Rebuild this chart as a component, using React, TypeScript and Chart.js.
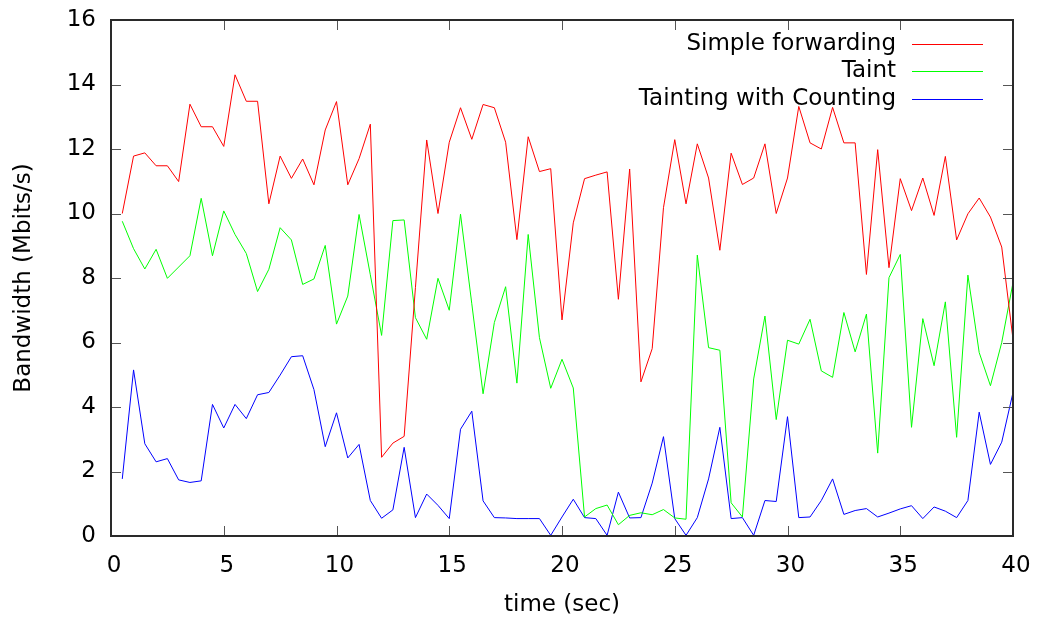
import React, { useEffect, useRef } from "react";
import Chart from "chart.js/auto";

const times = [
  0.5, 1, 1.5, 2, 2.5, 3, 3.5, 4, 4.5, 5, 5.5, 6, 6.5, 7, 7.5, 8, 8.5, 9, 9.5, 10,
  10.5, 11, 11.5, 12, 12.5, 13, 13.5, 14, 14.5, 15, 15.5, 16, 16.5, 17, 17.5, 18, 18.5, 19, 19.5, 20,
  20.5, 21, 21.5, 22, 22.5, 23, 23.5, 24, 24.5, 25, 25.5, 26, 26.5, 27, 27.5, 28, 28.5, 29, 29.5, 30,
  30.5, 31, 31.5, 32, 32.5, 33, 33.5, 34, 34.5, 35, 35.5, 36, 36.5, 37, 37.5, 38, 38.5, 39, 39.5, 40,
];

const simpleForwarding = [
  10.0, 11.78, 11.88, 11.48, 11.48, 10.99, 13.39, 12.69, 12.69, 12.08,
  14.3, 13.48, 13.48, 10.3, 11.78, 11.09, 11.69, 10.89, 12.59, 13.47,
  10.89, 11.7, 12.77, 2.44, 2.88, 3.09, 7.7, 12.28, 10.0, 12.21,
  13.28, 12.3, 13.38, 13.28, 12.21, 9.19, 12.38, 11.3, 11.39, 6.7,
  9.71, 11.08, 11.19, 11.29, 7.34, 11.38, 4.78, 5.81, 10.18, 12.29,
  10.3, 12.16, 11.1, 8.86, 11.87, 10.9, 11.1, 12.16, 10.0, 11.1,
  13.32, 12.19, 12.0, 13.29, 12.19, 12.19, 8.11, 11.98, 8.32, 11.08,
  10.09, 11.1, 9.94, 11.77, 9.18, 9.99, 10.48, 9.89, 8.96, 6.1,
];

const taint = [
  9.76, 8.91, 8.28, 8.89, 7.99, 8.34, 8.69, 10.47, 8.69, 10.08,
  9.35, 8.76, 7.58, 8.27, 9.56, 9.18, 7.8, 7.97, 9.01, 6.57,
  7.44, 9.97, 8.1, 6.22, 9.78, 9.8, 6.77, 6.1, 7.99, 7.0,
  9.98, 7.2, 4.41, 6.62, 7.73, 4.74, 9.35, 6.15, 4.58, 5.48,
  4.59, 0.59, 0.85, 0.96, 0.35, 0.64, 0.72, 0.66, 0.82, 0.56,
  0.52, 8.71, 5.84, 5.76, 1.03, 0.59, 4.87, 6.82, 3.61, 6.07,
  5.95, 6.72, 5.12, 4.92, 6.93, 5.71, 6.88, 2.57, 8.01, 8.73,
  3.37, 6.74, 5.28, 7.26, 3.06, 8.09, 5.69, 4.66, 6.0, 7.86,
];

const taintingWithCounting = [
  1.77, 5.15, 2.86, 2.3, 2.4, 1.74, 1.66, 1.71, 4.08, 3.35,
  4.08, 3.64, 4.38, 4.45, 4.99, 5.56, 5.59, 4.54, 2.77, 3.82,
  2.42, 2.84, 1.1, 0.55, 0.81, 2.75, 0.57, 1.3, 0.95, 0.54,
  3.31, 3.87, 1.09, 0.57, 0.56, 0.54, 0.54, 0.54, 0.02, 0.59,
  1.14, 0.57, 0.54, 0.02, 1.36, 0.56, 0.57, 1.64, 3.08, 0.54,
  0.02, 0.57, 1.77, 3.37, 0.54, 0.57, 0.02, 1.1, 1.07, 3.7,
  0.57, 0.59, 1.1, 1.77, 0.67, 0.79, 0.85, 0.59, 0.71, 0.84,
  0.94, 0.54, 0.9, 0.77, 0.57, 1.1, 3.84, 2.22, 2.91, 4.45,
];

const seriesLabels = ["Simple forwarding", "Taint", "Tainting with Counting"];
const seriesColors = ["#ff0000", "#00ff00", "#0000ff"];
const seriesData = [simpleForwarding, taint, taintingWithCounting];

const xTitle = "time (sec)";
const yTitle = "Bandwidth (Mbits/s)";

const FONT = "'DejaVu Sans', sans-serif";
const FONT_SIZE = 23;

const zeroPad = (s: any) => {
  s.paddingTop = 0;
  s.paddingBottom = 0;
  s.paddingLeft = 0;
  s.paddingRight = 0;
};

const framePlugin = {
  id: "gnuframe",
  afterDatasetsDraw(chart: any) {
    const { ctx, chartArea: a, scales } = chart;
    const xs = scales.x;
    const ys = scales.y;
    ctx.save();
    ctx.strokeStyle = "#555555";
    ctx.lineWidth = 1;
    const tl = 10;
    ctx.beginPath();
    xs.ticks.forEach((t: any) => {
      const px = Math.round(xs.getPixelForValue(t.value)) + 0.5;
      ctx.moveTo(px, a.bottom);
      ctx.lineTo(px, a.bottom - tl);
      ctx.moveTo(px, a.top);
      ctx.lineTo(px, a.top + tl);
    });
    ys.ticks.forEach((t: any) => {
      const py = Math.round(ys.getPixelForValue(t.value)) + 0.5;
      ctx.moveTo(a.left, py);
      ctx.lineTo(a.left + tl, py);
      ctx.moveTo(a.right, py);
      ctx.lineTo(a.right - tl, py);
    });
    ctx.stroke();
    ctx.strokeStyle = "#2a2a2a";
    ctx.lineWidth = 2;
    ctx.strokeRect(a.left, a.top, a.right - a.left, a.bottom - a.top);
    ctx.font = `${FONT_SIZE}px ${FONT}`;
    ctx.textAlign = "right";
    ctx.textBaseline = "middle";
    chart.data.datasets.forEach((ds: any, i: number) => {
      const y = 44 + i * 27.3;
      ctx.fillStyle = "#000000";
      ctx.fillText(ds.label, 896, y);
      ctx.strokeStyle = ds.borderColor;
      ctx.lineWidth = 1;
      ctx.beginPath();
      ctx.moveTo(912, Math.round(y) + 0.5);
      ctx.lineTo(983, Math.round(y) + 0.5);
      ctx.stroke();
    });
    ctx.restore();
  },
};

export default function App() {
  const ref = useRef<HTMLCanvasElement>(null);
  useEffect(() => {
    document.body.style.margin = "0";
    const canvas = ref.current;
    if (!canvas) return;
    const chart = new Chart(canvas, {
      type: "line",
      data: {
        datasets: seriesData.map((vals, i) => ({
          label: seriesLabels[i],
          data: vals.map((v, j) => ({ x: times[j], y: v })),
          borderColor: seriesColors[i],
          backgroundColor: seriesColors[i],
          borderWidth: 1,
          pointRadius: 0,
          tension: 0,
          fill: false,
        })),
      },
      options: {
        animation: false,
        responsive: false,
        events: [],
        layout: { padding: { top: 20, right: 26, left: 0, bottom: 0 } },
        plugins: {
          legend: { display: false },
          tooltip: { enabled: false },
        },
        scales: {
          x: {
            type: "linear",
            min: 0,
            max: 40,
            afterFit: (s: any) => {
              s.height = 85;
              zeroPad(s);
            },
            grid: { display: false, drawTicks: false },
            border: { display: false },
            ticks: {
              stepSize: 5,
              padding: 16,
              labelOffset: 3,
              color: "#000000",
              font: { family: FONT, size: FONT_SIZE },
              maxRotation: 0,
            },
            title: {
              display: true,
              text: xTitle,
              color: "#000000",
              font: { family: FONT, size: FONT_SIZE },
              padding: { top: 0, bottom: 2 },
            },
          },
          y: {
            min: 0,
            max: 16,
            afterFit: (s: any) => {
              s.width = 111;
              zeroPad(s);
            },
            grid: { display: false, drawTicks: false },
            border: { display: false },
            ticks: {
              stepSize: 2,
              padding: 15,
              color: "#000000",
              font: { family: FONT, size: FONT_SIZE },
            },
            title: {
              display: true,
              text: yTitle,
              color: "#000000",
              font: { family: FONT, size: FONT_SIZE },
              padding: { top: 10, bottom: 0 },
            },
          },
        },
      },
      plugins: [framePlugin],
    });
    return () => chart.destroy();
  }, []);
  return (
    <canvas
      ref={ref}
      width={1039}
      height={621}
      style={{ display: "block", width: 1039, height: 621 }}
    />
  );
}
